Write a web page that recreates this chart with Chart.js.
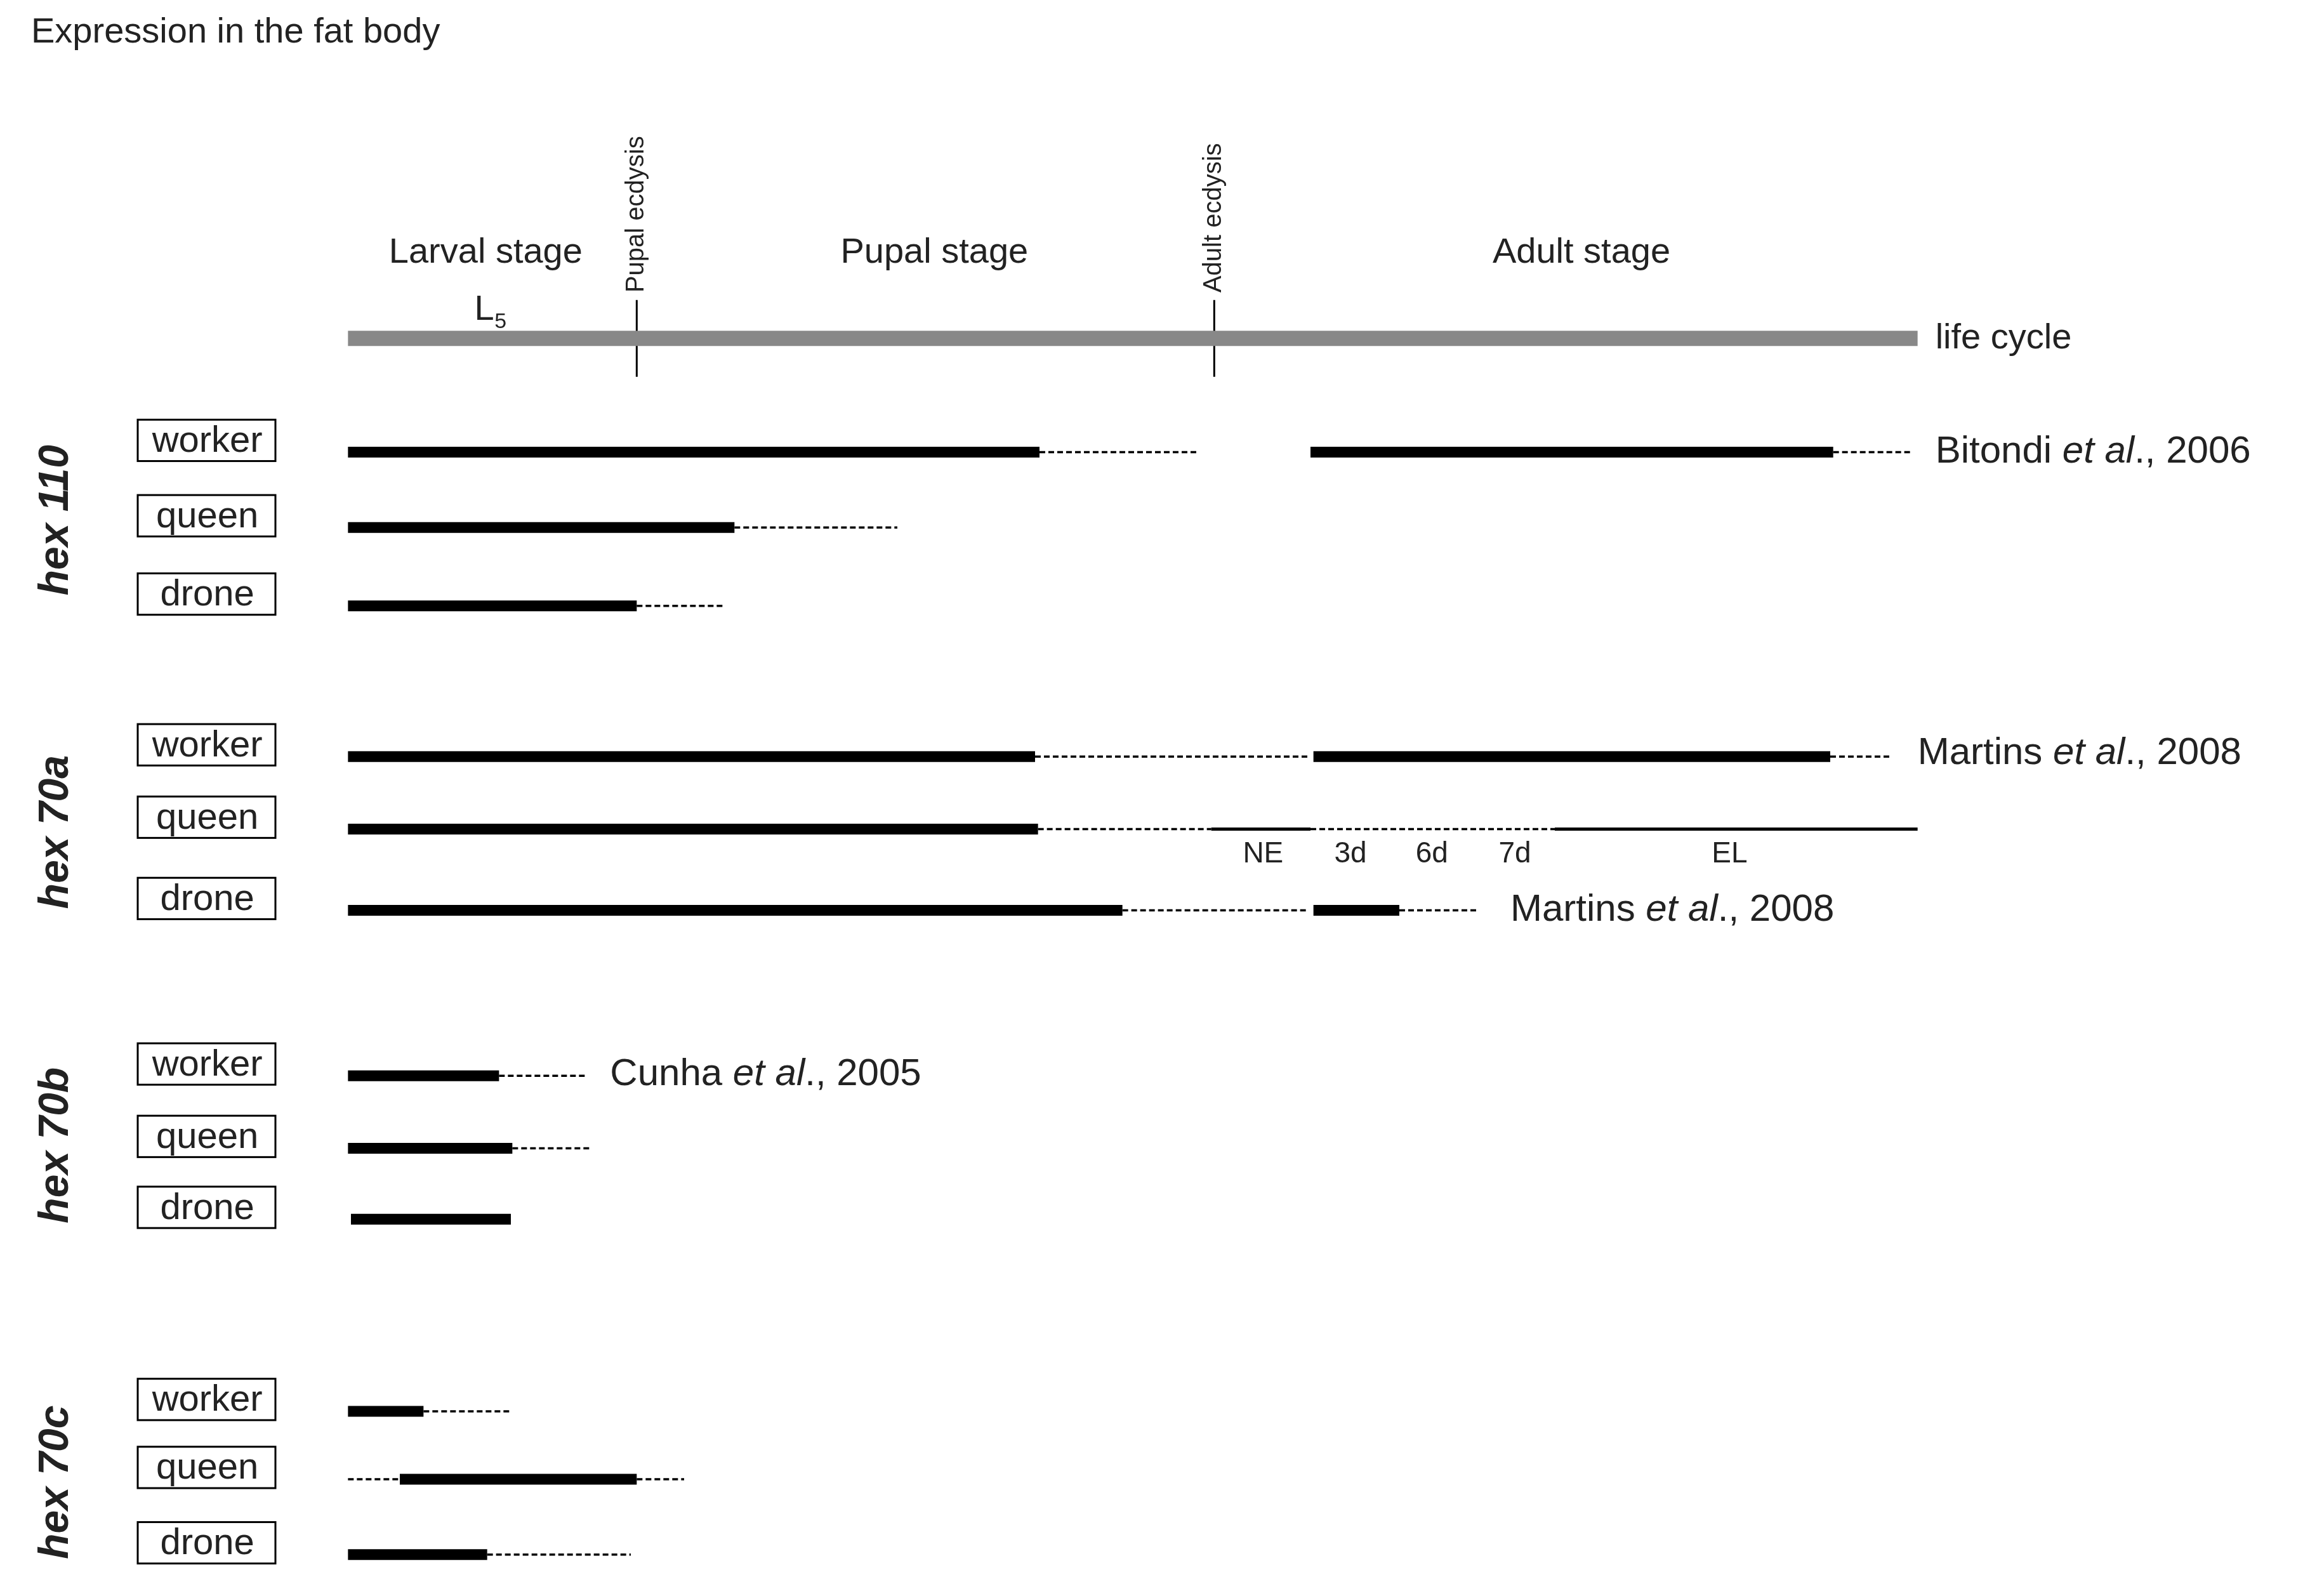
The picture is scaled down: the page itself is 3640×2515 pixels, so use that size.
<!DOCTYPE html>
<html>
<head>
<meta charset="utf-8">
<script src="https://cdn.jsdelivr.net/npm/chart.js@4"></script>
<style>
  html, body { margin: 0; padding: 0; background: #fff; }
  canvas { display: block; }
</style>
</head>
<body>
<canvas id="c" width="3640" height="2515"></canvas>
<script>
// positions on the life-cycle axis (reference units, 0..1560) and lane heights (0..1080)
const lifeCycle = [235, 1295];
const ecdyses = [430, 820];
const ecdysisNames = ['Pupal ecdysis', 'Adult ecdysis'];
const stageNames = ['Larval stage', 'Pupal stage', 'Adult stage'];
const stageX = [328, 631, 1068];

const genes = ['hex 110', 'hex 70a', 'hex 70b', 'hex 70c'];
const geneY = [352, 563, 775, 1003];
const castes = ['worker', 'queen', 'drone'];
const laneY = [
  [306, 357, 410],
  [512, 561, 616],
  [728, 777, 825],
  [955, 1001, 1052]
];

// segment kinds: S = strong expression, D = weak (dashed), T = thin line
const segments = [
  // hex 110
  [0, 0, 'S', 235, 702], [0, 0, 'D', 702, 810], [0, 0, 'S', 885, 1238], [0, 0, 'D', 1238, 1290],
  [0, 1, 'S', 235, 496], [0, 1, 'D', 496, 606],
  [0, 2, 'S', 235, 430], [0, 2, 'D', 430, 490],
  // hex 70a
  [1, 0, 'S', 235, 699], [1, 0, 'D', 699, 885], [1, 0, 'S', 887, 1236], [1, 0, 'D', 1236, 1278],
  [1, 1, 'S', 235, 701], [1, 1, 'D', 701, 818], [1, 1, 'T', 818, 885], [1, 1, 'D', 885, 1050], [1, 1, 'T', 1050, 1295],
  [1, 2, 'S', 235, 758], [1, 2, 'D', 758, 884], [1, 2, 'S', 887, 945], [1, 2, 'D', 945, 998],
  // hex 70b
  [2, 0, 'S', 235, 337], [2, 0, 'D', 337, 397],
  [2, 1, 'S', 235, 346], [2, 1, 'D', 346, 398],
  [2, 2, 'S', 237, 345],
  // hex 70c
  [3, 0, 'S', 235, 286], [3, 0, 'D', 286, 345],
  [3, 1, 'D', 235, 270], [3, 1, 'S', 270, 430], [3, 1, 'D', 430, 462],
  [3, 2, 'S', 235, 329], [3, 2, 'D', 329, 426]
];

const queenMarks = ['NE', '3d', '6d', '7d', 'EL'];
const queenMarkX = [853, 912, 967, 1023, 1168];

const refs = [
  ['Bitondi ', 'et al', '., 2006', 1307, 306],
  ['Martins ', 'et al', '., 2008', 1295, 510],
  ['Martins ', 'et al', '., 2008', 1020, 616],
  ['Cunha ', 'et al', '., 2005', 412, 727]
];

const datasets = [];
datasets.push({
  data: [{x: lifeCycle[0], y: 229}, {x: lifeCycle[1], y: 229}],
  borderColor: '#888', borderWidth: 24, borderCapStyle: 'butt'
});
ecdyses.forEach(x => datasets.push({
  data: [{x: x, y: 203}, {x: x, y: 255}], borderColor: '#000', borderWidth: 3
}));
segments.forEach(([g, c, k, a, b]) => {
  const y = laneY[g][c];
  datasets.push({
    data: [{x: a, y: y}, {x: b, y: y}],
    borderColor: '#000',
    borderWidth: k === 'S' ? 17 : (k === 'T' ? 5 : 3.5),
    borderDash: k === 'D' ? [9, 5] : [],
    borderCapStyle: 'butt'
  });
});

const labels = {
  id: 'labels',
  afterDatasetsDraw(chart) {
    const ctx = chart.ctx;
    const X = v => chart.scales.x.getPixelForValue(v);
    const Y = v => chart.scales.y.getPixelForValue(v);
    const F = 'Arial, "Liberation Sans", sans-serif';
    ctx.save();
    ctx.fillStyle = '#222';
    ctx.textBaseline = 'middle';
    ctx.font = '56px ' + F;
    ctx.textAlign = 'left';
    ctx.fillText('Expression in the fat body', X(21), Y(22));
    ctx.textAlign = 'center';
    stageNames.forEach((s, i) => ctx.fillText(s, X(stageX[i]), Y(171)));
    ctx.fillText('L', X(327), Y(210));
    ctx.font = '34px ' + F;
    ctx.fillText('5', X(338), Y(218));
    ctx.font = '56px ' + F;
    ctx.textAlign = 'left';
    ctx.fillText('life cycle', X(1307), Y(229));
    // ecdysis labels, rotated
    ctx.font = '40px ' + F;
    ecdyses.forEach((x, i) => {
      ctx.save();
      ctx.translate(X(x), Y(198));
      ctx.rotate(-Math.PI / 2);
      ctx.textAlign = 'left';
      ctx.fillText(ecdysisNames[i], 0, 0);
      ctx.restore();
    });
    // queen hex70a time marks
    ctx.font = '46px ' + F;
    ctx.textAlign = 'center';
    queenMarks.forEach((m, i) => ctx.fillText(m, X(queenMarkX[i]), Y(578)));
    // gene names
    ctx.font = 'italic bold 66px ' + F;
    genes.forEach((g, i) => {
      ctx.save();
      ctx.translate(X(38), Y(geneY[i]));
      ctx.rotate(-Math.PI / 2);
      ctx.textAlign = 'center';
      ctx.fillText(g, 0, 0);
      ctx.restore();
    });
    // caste boxes
    ctx.strokeStyle = '#000';
    ctx.lineWidth = 3;
    ctx.font = '58px ' + F;
    laneY.forEach(ys => ys.forEach((y, i) => {
      const top = Y(y - 22), h = Y(y + 6) - top;
      ctx.strokeRect(X(93), top, X(186) - X(93), h);
      ctx.textAlign = 'center';
      ctx.fillText(castes[i], X(140), top + h / 2 + 2);
    }));
    // references
    ctx.textAlign = 'left';
    refs.forEach(([a, b, c, x, y]) => {
      let px = X(x);
      ctx.font = '60px ' + F; ctx.fillText(a, px, Y(y)); px += ctx.measureText(a).width;
      ctx.font = 'italic 60px ' + F; ctx.fillText(b, px, Y(y)); px += ctx.measureText(b).width;
      ctx.font = '60px ' + F; ctx.fillText(c, px, Y(y));
    });
    ctx.restore();
  }
};

new Chart(document.getElementById('c'), {
  type: 'line',
  data: { datasets: datasets },
  options: {
    responsive: false,
    animation: false,
    devicePixelRatio: 1,
    layout: { padding: 0 },
    elements: { point: { radius: 0 }, line: { tension: 0 } },
    plugins: { legend: { display: false }, tooltip: { enabled: false } },
    scales: {
      x: { type: 'linear', min: 0, max: 1560, display: false },
      y: { type: 'linear', min: 0, max: 1080, reverse: true, display: false }
    }
  },
  plugins: [labels]
});
</script>
</body>
</html>
